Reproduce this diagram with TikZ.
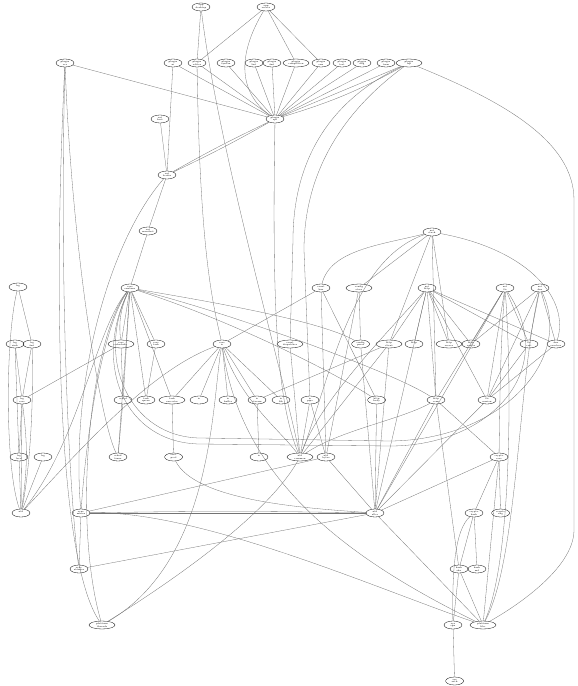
\documentclass[tikz,border=0pt]{standalone}
\usepackage{tikz}
\usetikzlibrary{shapes.geometric, positioning}

\begin{document}
\begin{tikzpicture}[
    x=1pt, y=-1pt,
    pkg/.style={
        draw, ellipse, line width=0.3pt,
        inner sep=0pt, minimum width=18pt, minimum height=8pt,
        font=\fontsize{2.3}{2.6}\selectfont, align=center
    },
    wide/.style={pkg, minimum width=26pt},
    dep/.style={draw=black!55, line width=0.3pt},
]
\useasboundingbox (0,0) rectangle (578,686);

% ── top level ──
\node[pkg] (a1) at (201,7) {app\\desktop};
\node[pkg] (a2) at (266,7) {app\\server};

% ── second row ──
\node[pkg] (b1) at (65,63) {plugin\\vcs};
\node[pkg] (b2) at (173,63) {plugin\\ui};
\node[pkg] (b3) at (197,63) {plugin\\editor};
\node[pkg] (b4) at (226,63) {plugin\\syntax};
\node[pkg] (b5) at (254,63) {plugin\\lint};
\node[pkg] (b6) at (272,63) {plugin\\fmt};
\node[wide] (b7) at (296,63) {plugin\\completion};
\node[pkg] (b8) at (321,63) {plugin\\run};
\node[pkg] (b9) at (342,63) {plugin\\test};
\node[pkg] (b10) at (362,63) {plugin\\dbg};
\node[pkg] (b11) at (386,63) {plugin\\term};
\node[wide] (b12) at (409,63) {plugin\\lsp};

% ── hub ──
\node[pkg] (hub) at (275,119) {plugin\\api};
\node[pkg] (c1) at (160,119) {ext\\host};
\node[pkg] (c2) at (167,175) {ext\\loader};
\node[pkg] (c3) at (148,231) {ext\\manifest};

% ── core ──
\node[pkg] (d) at (130,288) {core\\runtime};
\node[pkg] (e1) at (18,287) {log\\};
\node[pkg] (n0) at (432,232) {net\\stack};
\node[pkg] (l1) at (321,288) {event\\bus};
\node[wide] (l2) at (359,288) {config\\store};
\node[pkg] (n1) at (427,288) {net\\http};
\node[pkg] (n2) at (505,288) {net\\tls};
\node[pkg] (n3) at (540,288) {net\\dns};

% ── third row ──
\node[pkg] (e2) at (15,344) {log\\sink};
\node[pkg] (e3) at (32,344) {log\\fmt};
\node[wide] (f1) at (121,344) {core\\scheduler};
\node[pkg] (f2) at (156,344) {core\\task};
\node[pkg] (m1) at (222,344) {core\\io};
\node[wide] (m2) at (290,344) {event\\dispatcher};
\node[pkg] (m3) at (360.6,344) {config\\parse};
\node[wide] (m4) at (389,344) {http\\client};
\node[pkg] (m5) at (414,344) {http\\};
\node[wide] (m6) at (449,344) {http\\server};
\node[pkg] (m7) at (471,344) {http\\router};
\node[pkg] (m8) at (529,344) {tls\\cert};
\node[pkg] (m9) at (556,344) {dns\\resolver};

% ── fourth row ──
\node[pkg] (g1) at (22,400) {log\\core};
\node[pkg] (g2) at (123,400) {sched\\};
\node[pkg] (g3) at (146,400) {task\\queue};
\node[wide] (g4) at (172,400) {task\\executor};
\node[pkg] (g5) at (199,400) {io\\};
\node[pkg] (g6) at (228,400) {io\\buffer};
\node[pkg] (g7) at (257,400) {io\\stream};
\node[pkg] (g8) at (281,400) {io\\file};
\node[pkg] (g9) at (310,400) {io\\pipe};
\node[pkg] (g10) at (376.6,400) {http\\body};
\node[pkg] (s1) at (436,400) {http\\conn};
\node[pkg] (s2) at (487,400) {tls\\session};

% ── fifth row ──
\node[pkg] (h1) at (19,457) {log\\level};
\node[pkg] (h2) at (43,457) {log\\};
\node[pkg] (h3) at (118,457) {sched\\timer};
\node[pkg] (h4) at (173.6,457) {exec\\pool};
\node[pkg] (q1) at (259,457) {io\\};
\node[wide] (q2) at (300,457) {util\\common};
\node[pkg] (q3) at (326,457) {util\\bytes};
\node[pkg] (q4) at (499,457) {crypto\\core};

% ── lower rows ──
\node[pkg] (i1) at (21,513) {util\\};
\node[pkg] (i2) at (81,513) {sync\\mutex};
\node[pkg] (p) at (375,513) {util\\alloc};
\node[pkg] (r1) at (474,513) {crypto\\hash};
\node[pkg] (r2) at (500.6,513) {crypto\\rng};
\node[pkg] (j1) at (79,569) {sync\\atomics};
\node[pkg] (t1) at (459,569) {hash\\sha};
\node[pkg] (t2) at (477,569) {hash\\md};
\node[wide] (k1) at (102,625) {platform\\threads};
\node[pkg] (u1) at (453,625) {sys\\cpu};
\node[wide] (u2) at (483,625) {platform\\libc};
\node[pkg] (v1) at (454.6,681) {sys\\arch};

% ── top edges ──
\draw[dep] (a1) -- (b3);
\draw[dep] (a1) .. controls (218,150) and (285,380) .. (q2);
\draw[dep] (a2) -- (b3);
\draw[dep] (a2) .. controls (240,50) and (235,90) .. (hub);
\draw[dep] (a2) -- (b7);
\draw[dep] (a2) -- (b8);
\foreach \b in {b1,b2,b3,b4,b5,b6,b7,b8,b9,b10,b11,b12}
    \draw[dep] (\b) -- (hub);
\draw[dep] (b12) to[bend left=6] (hub);
\draw[dep] (b12) .. controls (330,100) and (293,160) .. (293,240) -- (m2);
\draw[dep] (b12) .. controls (345,110) and (304,170) .. (304,250) -- (g9);
\draw[dep] (b12) .. controls (500,100) and (574,140) .. (574,200) -- (574,530) .. controls (574,570) and (510,610) .. (u2);
\draw[dep] (hub) .. controls (272,300) and (276,400) .. (q2);
\draw[dep] (b3) .. controls (200,250) and (212,300) .. (m1);

% ── extension edges ──
\draw[dep] (hub) to[bend left=2] (c2);
\draw[dep] (hub) to[bend right=2] (c2);
\draw[dep] (b2) -- (c2);
\draw[dep] (c1) -- (c2);
\draw[dep] (c2) -- (c3);
\draw[dep] (c2) .. controls (110,240) and (70,380) .. (i2);
\draw[dep] (c3) -- (d);
\draw[dep] (b1) .. controls (53,300) and (58,560) .. (k1);
\draw[dep] (b1) .. controls (59,300) and (70,500) .. (j1);
\draw[dep] (b1) .. controls (72,250) and (100,420) .. (h3);

% ── core edges ──
\draw[dep] (d) -- (f1);
\draw[dep] (d) to[bend right=15] (f1);
\draw[dep] (d) -- (f2);
\draw[dep] (d) -- (g2);
\draw[dep] (d) -- (g3);
\draw[dep] (d) -- (g4);
\draw[dep] (d) -- (h3);
\draw[dep] (d) .. controls (200,300) and (320,320) .. (m3);
\draw[dep] (d) .. controls (220,310) and (390,370) .. (s1);
\draw[dep] (d) .. controls (230,320) and (330,370) .. (g10);
\draw[dep] (d) .. controls (95,330) and (80,440) .. (i1);
\draw[dep] (d) .. controls (100,330) and (85,450) .. (i2);
\draw[dep] (d) .. controls (90,340) and (72,520) .. (k1);
\draw[dep] (d) .. controls (95,360) and (130,437) .. (200,438) -- (390,441) .. controls (500,440) and (575,360) .. (n3);
\draw[dep] (d) .. controls (92,365) and (125,443) .. (200,444) -- (390,446) .. controls (490,446) and (560,370) .. (n2);

% ── left cluster ──
\draw[dep] (e1) -- (e3);
\draw[dep] (e1) .. controls (5,340) and (5,470) .. (i1);
\draw[dep] (e2) -- (g1);
\draw[dep] (e2) -- (h1);
\draw[dep] (e3) -- (g1);
\draw[dep] (e3) .. controls (34,420) and (28,480) .. (i1);
\draw[dep] (g1) -- (h1);
\draw[dep] (g1) -- (i1);
\draw[dep] (g1) to[bend left=8] (i1);
\draw[dep] (h1) -- (i1);
\draw[dep] (h2) -- (i1);
\draw[dep] (f1) -- (g1);
\draw[dep] (f1) -- (g2);
\draw[dep] (f2) -- (g3);
\draw[dep] (g2) -- (h3);
\draw[dep] (g4) -- (h4);
\draw[dep] (h4) .. controls (195,500) and (300,508) .. (p);

% ── io edges ──
\draw[dep] (l1) -- (m1);
\draw[dep] (m1) -- (g4);
\draw[dep] (m1) -- (g5);
\draw[dep] (m1) -- (g6);
\draw[dep] (m1) -- (g7);
\draw[dep] (m1) -- (g8);
\draw[dep] (m1) .. controls (240,400) and (280,430) .. (q2);
\draw[dep] (m1) .. controls (212,400) and (214,560) .. (k1);
\draw[dep] (m1) .. controls (240,470) and (330,550) .. (u2);
\draw[dep] (m1) .. controls (150,370) and (80,450) .. (i1);
\draw[dep] (g7) -- (q1);
\draw[dep] (m2) -- (q2);
\draw[dep] (g9) -- (q2);
\draw[dep] (g9) -- (q3);
\draw[dep] (l1) -- (q3);
\draw[dep] (l1) -- (g10);
\draw[dep] (l2) -- (m3);
\draw[dep] (l2) -- (q3);
\draw[dep] (m3) -- (p);
\draw[dep] (g10) -- (p);
\draw[dep] (q3) -- (i2);
\draw[dep] (q3) -- (p);
\draw[dep] (i2) -- (p);
\draw[dep] (i2) to[bend left=1] (p);
\draw[dep] (i2) .. controls (200,510) and (380,590) .. (u2);
\draw[dep] (i2) -- (j1);
\draw[dep] (j1) -- (p);
\draw[dep] (q2) .. controls (270,510) and (190,570) .. (k1);

% ── net edges ──
\draw[dep] (n0) .. controls (380,245) and (330,250) .. (l1);
\draw[dep] (n0) -- (l2);
\draw[dep] (n0) -- (m4);
\draw[dep] (n0) -- (m6);
\draw[dep] (n0) -- (s1);
\draw[dep] (n0) .. controls (530,250) and (570,300) .. (m9);
\draw[dep] (n0) .. controls (350,260) and (330,380) .. (q2);
\foreach \m in {m4,m5,m6,m7,m8,m9,s1,s2}
    \draw[dep] (n1) -- (\m);
\draw[dep] (n1) -- (p);
\draw[dep] (n1) .. controls (390,330) and (320,400) .. (q2);
\draw[dep] (m4) -- (g7);
\draw[dep] (m4) -- (q2);
\draw[dep] (m4) -- (p);
\foreach \m in {m7,m8,s1,s2}
    \draw[dep] (n2) -- (\m);
\draw[dep] (n2) .. controls (500,350) and (500,400) .. (q4);
\draw[dep] (n2) .. controls (512,380) and (512,560) .. (u2);
\draw[dep] (n2) -- (p);
\foreach \m in {m7,m8,m9,s2}
    \draw[dep] (n3) -- (\m);
\draw[dep] (n3) .. controls (518,380) and (518,560) .. (u2);
\draw[dep] (m9) -- (s2);
\draw[dep] (m8) -- (s2);
\draw[dep] (s1) -- (q4);
\draw[dep] (s1) -- (p);
\draw[dep] (s1) -- (t1);
\draw[dep] (s1) .. controls (400,420) and (340,430) .. (q2);
\draw[dep] (s2) -- (p);
\draw[dep] (q4) -- (r1);
\draw[dep] (q4) -- (r2);
\draw[dep] (q4) -- (u2);
\draw[dep] (q4) -- (p);
\draw[dep] (r1) -- (t1);
\draw[dep] (r1) -- (t2);
\draw[dep] (r1) .. controls (455,530) and (452,570) .. (u1);
\draw[dep] (t1) -- (u1);
\draw[dep] (t1) -- (u2);
\draw[dep] (p) -- (u2);
\draw[dep] (u1) -- (v1);

\end{tikzpicture}
\end{document}
